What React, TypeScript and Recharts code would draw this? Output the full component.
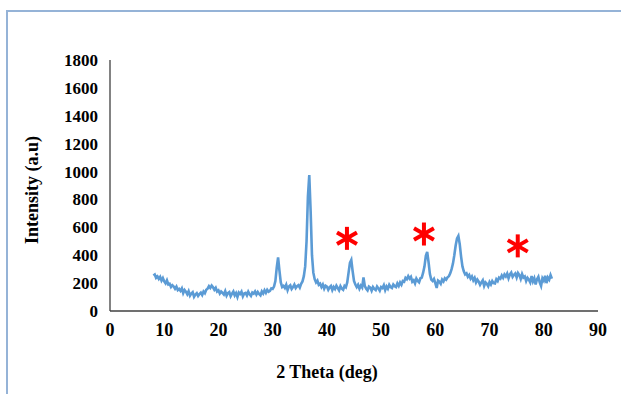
import React from 'react';
import { LineChart, Line, XAxis, YAxis, ReferenceDot } from 'recharts';

const thetaStart = 8.0;
const thetaStep = 0.25;

// Intensity readings, one every 0.25 deg from 8.0 to 81.5
const intensity = [
  255, 262, 238, 248, 230, 245, 218, 236, 212, 198, 220, 190,
  195, 172, 185, 176, 160, 175, 150, 158, 145, 162, 128, 150,
  138, 120, 142, 110, 125, 135, 102, 118, 128, 108, 122, 132,
  115, 140, 128, 152, 160, 178, 165, 182, 170, 152, 166, 140,
  148, 125, 140, 130, 118, 142, 110, 128, 135, 106, 125, 140,
  112, 128, 100, 132, 122, 138, 105, 126, 130, 112, 138, 120,
  108, 132, 125, 140, 118, 136, 122, 112, 140, 125, 148, 130,
  152, 138, 145, 162, 158, 175, 215, 310, 385, 290, 205, 172,
  180, 165, 188, 150, 176, 185, 158, 172, 190, 165, 178, 185,
  168, 195, 212, 250, 320, 500, 820, 975, 720, 400, 275, 228,
  205, 218, 188, 196, 172, 190, 160, 182, 175, 152, 170, 180,
  150, 172, 158, 182, 165, 148, 178, 160, 152, 180, 170, 205,
  275, 345, 366, 285, 215, 190, 172, 188, 160, 182, 168, 240,
  178, 160, 148, 175, 168, 145, 172, 158, 150, 176, 162, 145,
  172, 165, 185, 150, 176, 160, 188, 172, 165, 190, 178, 172,
  198, 180, 205, 188, 215, 210, 238, 228, 250, 232, 245, 210,
  220, 198, 232, 215, 205, 235, 240, 275, 320, 395, 423, 350,
  265, 225, 215, 230, 200, 165, 218, 210, 195, 225, 212, 235,
  225, 242, 250, 270, 300, 340, 400, 470, 520, 538, 480, 390,
  320, 285, 262, 270, 245, 258, 232, 248, 220, 238, 205, 225,
  210, 188, 205, 220, 180, 205, 195, 178, 208, 190, 215, 200,
  198, 228, 215, 240, 232, 255, 238, 262, 248, 268, 235, 262,
  275, 245, 260, 270, 240, 272, 258, 230, 265, 240, 248, 215,
  238, 225, 205, 250, 212, 235, 190, 228, 245, 205, 180, 235,
  218, 252, 200, 240, 225, 258, 232,
];

const xTicks = [0, 10, 20, 30, 40, 50, 60, 70, 80, 90];
const yTicks = [0, 200, 400, 600, 800, 1000, 1200, 1400, 1600, 1800];

const starTheta = [43.7, 57.9, 75.2];
const starLevel = [521, 552, 467];

const data = intensity.map((v, i) => ({ theta: thetaStart + i * thetaStep, intensity: v }));

const FONT = '"Liberation Serif", "Times New Roman", serif';

const Asterisk = (props: any) => {
  const { cx, cy } = props;
  const r = 11.5;
  const c = Math.cos(Math.PI / 6) * r;
  const s = Math.sin(Math.PI / 6) * r;
  return (
    <g stroke="#ff0000" strokeWidth={4}>
      <line x1={cx} y1={cy - r} x2={cx} y2={cy + r} />
      <line x1={cx - c} y1={cy - s} x2={cx + c} y2={cy + s} />
      <line x1={cx - c} y1={cy + s} x2={cx + c} y2={cy - s} />
    </g>
  );
};

export default function App() {
  return (
    <div style={{ position: 'absolute', left: 0, top: 0, width: 621, height: 394, overflow: 'hidden', background: '#fff' }}>
      <div
        style={{
          position: 'absolute',
          left: 6,
          top: 10,
          width: 700,
          height: 500,
          borderLeft: '2px solid #95b3d7',
          borderTop: '2px solid #95b3d7',
        }}
      />
      <div style={{ position: 'absolute', left: 0, top: 0 }}>
        <LineChart width={621} height={394} data={data} margin={{ top: 60, right: 23, bottom: 53, left: 0 }}>
          <XAxis
            dataKey="theta"
            type="number"
            domain={[0, 90]}
            ticks={xTicks}
            tickLine={false}
            tickMargin={6}
            height={30}
            axisLine={{ stroke: '#404040', strokeWidth: 1.3 }}
            tick={{ fill: '#000', fontSize: 18, fontWeight: 'bold', fontFamily: FONT }}
            label={() => (
              <text x={327} y={378} textAnchor="middle" fill="#000" fontSize={18} fontWeight="bold" fontFamily={FONT}>
                2 Theta (deg)
              </text>
            )}
          />
          <YAxis
            type="number"
            domain={[0, 1800]}
            ticks={yTicks}
            tickLine={false}
            tickMargin={6}
            width={110}
            axisLine={{ stroke: '#404040', strokeWidth: 1.3 }}
            tick={{ fill: '#000', fontSize: 17, fontWeight: 'bold', fontFamily: FONT }}
            label={() => (
              <text
                x={38}
                y={190}
                transform="rotate(-90 38 190)"
                textAnchor="middle"
                fill="#000"
                fontSize={18}
                fontWeight="bold"
                fontFamily={FONT}
              >
                Intensity (a.u)
              </text>
            )}
          />
          <Line
            type="linear"
            dataKey="intensity"
            stroke="#5b9bd5"
            strokeWidth={2.6}
            dot={false}
            isAnimationActive={false}
          />
          {starTheta.map((t, i) => (
            <ReferenceDot key={i} x={t} y={starLevel[i]} r={10} shape={(p: any) => <Asterisk {...p} />} />
          ))}
        </LineChart>
      </div>
    </div>
  );
}
